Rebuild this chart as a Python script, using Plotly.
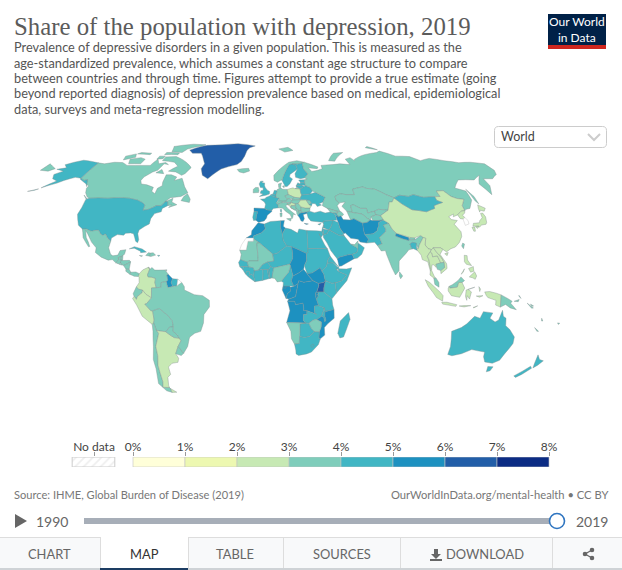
import plotly.graph_objects as go

TITLE = "Share of the population with depression, 2019"
SUBTITLE = [
    "Prevalence of depressive disorders in a given population. This is measured as the",
    "age-standardized prevalence, which assumes a constant age structure to compare",
    "between countries and through time. Figures attempt to provide a true estimate (going",
    "beyond reported diagnosis) of depression prevalence based on medical, epidemiological",
    "data, surveys and meta-regression modelling.",
]
LEGEND_EDGES = [0, 1, 2, 3, 4, 5, 6, 7]
LEGEND_COLORS = ["#ffffd9", "#edf8b1", "#c7e9b4", "#7fcdbb", "#41b6c4", "#1d91c0", "#225ea8", "#0c2c84"]
LEGEND_TICKS = [0, 1, 2, 3, 4, 5, 6, 7, 8]
LEGEND_LABELS = ["0%", "1%", "2%", "3%", "4%", "5%", "6%", "7%", "8%"]
TABS = ["CHART", "MAP", "TABLE", "SOURCES", "DOWNLOAD"]

CODES = ["CAN","USA","MEX","GTM","BLZ","HND","SLV","NIC","CRI","PAN","CUB","HTI","DOM","JAM","PRI","TTO",
 "COL","VEN","GUY","SUR","ECU","PER","BOL","CHL","ARG","PRY","URY","BRA","GRL","ISL","IRL","GBR","PRT","ESP","FRA","BEL","NLD","DEU","CHE","AUT","ITA",
 "POL","CZE","SVK","HUN","SVN","HRV","BIH","SRB","MNE","ALB","MKD","GRC","BGR","ROU","MDA","UKR","BLR","LTU","LVA","EST","DNK","SWE","NOR","FIN","RUS",
 "KAZ","UZB","TKM","KGZ","TJK","AFG","PAK","IRN","IRQ","KWT","SYR","JOR","ISR","LBN","SAU","YEM","OMN","ARE","TUR","GEO","ARM","AZE","CYP",
 "IND","NPL","BTN","BGD","LKA","CHN","TWN","MNG","PRK","JPN","MMR","THA","LAO","VNM","KHM","MYS","IDN","PNG","PHL","NZL","AUS","TLS","NCL","SLB","VUT","FJI",
 "MAR","DZA","TUN","LBY","EGY","MRT","MLI","NER","TCD","SDN","SSD","ERI","ETH","DJI","SOM","KEN","UGA","RWA","BDI","TZA","COD","COG","GAB","GNQ","CMR","CAF",
 "NGA","BEN","TGO","GHA","BFA","CIV","LBR","SLE","GIN","GNB","SEN","AGO","ZMB","MWI","MOZ","ZWE","BWA","NAM","ZAF","LSO","MDG"]
VALUES = [3.6,4.5,3.4,3.5,3.5,3.6,3.6,3.5,3.5,3.4,4.4,3.6,3.8,3.6,4.2,3.6,
 2.9,3.8,5.5,4.4,3.5,2.8,3.6,3.5,2.9,3.5,3.8,3.6,6.2,3.6,3.9,4.3,4.6,5.2,4.4,4.1,4.1,3.9,3.6,3.6,3.9,
 2.4,3.2,3.1,3.1,3.2,2.9,3.4,3.3,3.5,3.0,3.1,5.2,3.6,2.9,3.8,4.4,4.4,4.5,4.2,4.2,3.9,4.4,3.9,4.5,3.7,
 3.6,3.4,3.5,3.5,3.6,5.4,4.1,5.4,4.9,4.7,4.5,4.9,4.2,4.4,4.6,5.2,4.4,3.9,4.4,3.6,4.3,3.6,4.3,
 3.6,5.3,3.5,4.2,3.6,2.9,3.2,4.5,2.8,2.9,2.6,2.9,2.7,2.8,3.3,3.3,2.8,3.3,2.9,4.4,4.6,2.9,3.3,3.2,3.1,3.0,
 5.1,4.7,5.1,4.6,4.8,3.6,3.7,4.5,5.2,4.8,5.3,4.7,4.6,4.6,4.6,4.4,6.2,5.3,5.3,4.5,5.3,5.3,5.3,5.2,4.8,5.1,
 3.9,4.4,4.4,4.6,4.4,4.4,4.6,4.5,4.5,4.5,4.6,5.3,4.3,4.3,5.3,3.4,4.6,3.6,4.6,4.8,4.4]
NO_DATA_CODES = ["ESH","GUF","KOR"]

SHAPES = {
"CAN":["-141,69.6 -141,60.3 -137,59 -135,59.5 -133,57 -130,55.9 -130,54.5 -128,52 -125,49.8 -123,49 -110,49 -95,49 -89,48 -84.5,46.5 -82.5,45.3 -82.5,42.5 -79,43 -76.5,44 -74.7,45 -71.5,45 -69.2,47.4 -67.8,47 -67,45 -64.5,45.4 -66,44 -61,45.5 -65,47 -65,49 -70,47 -67,49.3 -60,50 -56,52 -60,55.5 -64.5,60.3 -69.5,59 -69,61 -74,62.3 -78,62.3 -77.5,58 -76.5,56 -79,54.5 -79,51.5 -82,52.9 -82.3,55.1 -88,56.5 -92.5,57 -94.5,59 -94,61 -90,64 -87,65 -85.5,69 -81.5,68.5 -85,69.8 -90,69 -94,72 -96,68 -102,68 -108,68 -115,68 -121,69.8 -128,70 -135,69",
 "-61.5,66.5 -64,63 -66,62 -72,64 -78,64.5 -73,67.5 -78,70 -89,71 -89,73.5 -80,73.7 -72,71.5 -68,70 -62,67","-105,69 -115,69 -118,72 -110,73 -105,72","-115,73.2 -123,71.5 -125,74 -118,75.5","-62,82.5 -75,83 -92,81 -88,77 -78,76.5 -76,79 -65,81.5","-80,75 -92,75 -92,76.5 -80,76.2","-105,75 -117,75.5 -115,76.5 -105,76","-90,72.3 -95,72 -95,74 -90,74","-59,47.7 -53,46.7 -53,48.5 -56,51.5 -58,50","-128,50.8 -123.5,48.4 -125,48.8","-80.5,63 -87,63.5 -84,65.5"],
"USA":["-124.7,48.4 -123,49 -110,49 -95,49 -89,48 -84.5,46.5 -82.5,45.3 -82.5,42.5 -79,43 -76.5,44 -74.7,45 -71.5,45 -69.2,47.4 -67.8,47 -67,45 -70,43.5 -70,41.7 -74,40.7 -75.5,38 -75.5,35.2 -78,33.9 -81,32 -81.3,30 -80,26.8 -80.4,25.2 -81.8,26 -82.8,28 -84,30 -86,30.4 -89,30.2 -90,29.2 -94,29.5 -97.2,27.7 -97.2,26 -99.5,27.5 -101.5,29.8 -103,29 -104.8,30 -106.5,31.8 -108.2,31.8 -111,31.3 -114.8,32.5 -117.1,32.5 -120.5,34.5 -122.5,37.5 -124.3,40.3 -124,44",
 "-141,69.6 -148,70.5 -156.5,71.3 -162,70 -166.5,68.4 -162,66.5 -168,65.6 -161,64.5 -165,62.5 -162,60 -157,58.7 -163,54.8 -155,57.5 -152,59 -149,60 -146,60.8 -141,60.3 -137,59 -135,59.5 -131,55.5 -133,57 -137,58.4 -141,59.8","-159,22.3 -155.5,20 -155,19.5 -156,19.5","-170,52.8 -164,54.2 -166,53.4"],
"MEX":["-117.1,32.5 -114.8,32.5 -111,31.3 -108.2,31.8 -106.5,31.8 -104.8,30 -103,29 -101.5,29.8 -99.5,27.5 -97.2,26 -97.8,22.5 -96,19 -94.5,18.2 -91.5,18.6 -90.5,21 -87,21.5 -87.5,19 -88.3,18.5 -89.1,17.9 -91,17.2 -90.5,16 -92.2,14.5 -94.5,16.2 -97,15.9 -101.5,17.5 -105.5,20 -105.5,22.5 -109,25.5 -112.8,30 -114.7,31.7 -113,28 -111,25.5 -109.6,23.2 -110.3,23 -112.2,25 -115,28 -116,30.5"],
"GTM":["-92.2,14.5 -90.5,16 -91,17.2 -89.1,17.9 -89.2,15.9 -88.2,15.7 -89.3,14.4 -90.5,13.9"],
"BLZ":["-89.1,17.9 -88.3,18.5 -88.2,16 -89.2,15.9"],
"HND":["-89.2,15.9 -88.2,15.7 -84,15.8 -83.2,15 -85,14 -87.3,13 -87.8,13.4 -89.3,14.4"],
"SLV":["-90.1,13.7 -89.3,14.4 -87.8,13.4 -88,13.2"],
"NIC":["-87.3,13 -85,14 -83.2,15 -83.7,11 -85.7,11.1"],
"CRI":["-85.7,11.1 -83.7,11 -82.6,9.5 -83,8.3 -85.7,10"],
"PAN":["-83,8.3 -82.6,9.5 -79.5,9.6 -77.4,8.7 -77.9,7.2 -80.5,7.3 -81.5,7.8"],
"CUB":["-85,21.9 -82,23.1 -77,21.8 -74.2,20.2 -77.7,19.9 -78,20.7 -82,22.3"],
"HTI":["-74.4,18.4 -73,19.9 -71.7,19.7 -71.7,18"],
"DOM":["-71.7,19.7 -70,19.8 -68.4,18.6 -71.3,17.8 -71.7,18"],
"JAM":["-78.3,18.4 -76.3,18.2 -77,17.8"],
"PRI":["-67.2,18.5 -65.7,18.4 -66.5,17.9"],
"TTO":["-61.9,10.7 -60.9,10.8 -61,10.1"],
"COL":["-77.4,8.7 -75.5,10.7 -72,12.2 -71.3,11 -72.5,8 -72,7 -70,6.9 -67.5,6.2 -67.8,4 -67,1.2 -69.8,1.1 -69.9,-4.2 -73,-2.4 -75.2,-0.1 -77.5,0.4 -79,1.6 -77.3,3.9 -77.5,6.8 -77.9,7.2"],
"VEN":["-72,12.2 -71.3,11 -72.5,8 -72,7 -70,6.9 -67.5,6.2 -67.8,4 -67,1.2 -64,1.5 -64,4 -61,4.5 -60,5.2 -60.7,8 -59.8,8.3 -62,10.7 -66,10.6 -68.2,10.6 -70,12 -71.3,10.9"],
"GUY":["-60,5.2 -61,4.5 -60,1.3 -57,1.9 -58,4 -57.2,6 -59.8,8.3 -60.7,8"],
"SUR":["-57.2,6 -58,4 -57,1.9 -54.5,2.3 -54,5.8"],
"ECU":["-80.9,-2 -79,1.6 -77.5,0.4 -75.2,-0.1 -75.5,-1.5 -78.3,-3.4 -79,-5 -80.3,-3.4"],
"PER":["-81.3,-4.5 -80.3,-3.4 -79,-5 -78.3,-3.4 -75.5,-1.5 -75.2,-0.1 -73,-2.4 -69.9,-4.2 -73,-7.3 -74,-7.5 -70.6,-11 -69.5,-11 -69,-16 -69.5,-17.5 -70.4,-18.3 -76,-14 -79,-8"],
"BOL":["-69.5,-11 -65.4,-9.8 -60.5,-13.5 -58,-16.3 -57.6,-19.5 -60,-19.8 -62.6,-22.2 -66.3,-21.8 -68.2,-21.5 -69,-19 -69.5,-17.5 -69,-16"],
"CHL":["-70.4,-18.3 -69.5,-17.5 -69,-19 -68.2,-21.5 -67,-23 -70,-30 -70,-35 -71.5,-40 -71.7,-44 -72,-49 -73.5,-52 -69,-52.2 -68.6,-52.7 -68.6,-54.9 -72,-54 -75.5,-50 -73.5,-42 -73.5,-37 -71.5,-30 -70.4,-22"],
"ARG":["-66.3,-21.8 -62.6,-22.2 -60,-24 -57.7,-25.3 -54.6,-25.6 -53.7,-27 -56,-30 -58.3,-33.9 -57,-36.3 -58,-38.5 -62,-39 -65,-41 -65,-45 -67.5,-46.5 -69,-51 -69,-52.2 -73.5,-52 -72,-49 -71.7,-44 -71.5,-40 -70,-35 -70,-30 -67,-23 -68.2,-21.5","-68.6,-52.7 -68.6,-54.9 -65.2,-54.8"],
"PRY":["-62.6,-22.2 -60,-19.8 -57.6,-19.5 -58,-22 -55.5,-24 -54.6,-25.6 -57.7,-25.3 -60,-24"],
"URY":["-58.3,-33.9 -56,-30 -53.2,-33.7 -55,-34.9"],
"BRA":["-51.7,4.1 -54.5,2.3 -57,1.9 -60,1.3 -61,4.5 -64,4 -64,1.5 -67,1.2 -69.8,1.1 -69.9,-4.2 -73,-7.3 -74,-7.5 -70.6,-11 -69.5,-11 -65.4,-9.8 -60.5,-13.5 -58,-16.3 -57.6,-19.5 -58,-22 -55.5,-24 -54.6,-25.6 -53.7,-27 -56,-30 -53.2,-33.7 -50,-30 -48.5,-26 -48,-25 -44.8,-23 -41,-22 -39,-17.5 -38.5,-13 -35,-9 -35,-5.5 -39,-3 -44,-2.5 -48,-0.8 -50,0 -50,1.8"],
"GRL":["-73,78.2 -68,76 -60,76 -55,72 -52,69 -53,66 -50,62 -45,60 -42,62.5 -37,65.8 -25,68.5 -22,70.5 -20,74 -19,78 -17,80 -12,81.5 -30,83.5 -45,82.5 -60,82 -65,81"],
"ISL":["-24,65.5 -22,64 -18.5,63.4 -14,64.6 -15,66.2 -20,66"],
"IRL":["-10,52 -6.2,52.2 -6,53.5 -6.5,55 -8.5,55 -10,54"],
"GBR":["-5.5,50 -1,50.7 1.4,51.3 1.7,52.7 0,53.5 -1.5,55 -2,56 -2,57.6 -4,57.7 -3,58.6 -5,58.6 -6,57 -5,55 -3,54.8 -3,53.4 -4.5,53.2 -5,51.8 -3,51.3"],
"PRT":["-9.5,38.7 -8.9,37 -7.4,37.2 -7,39.7 -6.3,41.7 -8.8,42 -9,41"],
"ESP":["-8.9,43.7 -8.8,42 -6.3,41.7 -7,39.7 -7.4,37.2 -6,36.2 -5.3,36.1 -2,36.8 -0.5,38.3 0,39.8 3,41.8 3,42.5 0,42.7 -1.8,43.4"],
"FRA":["-1.8,43.4 0,42.7 3,42.5 4,43.5 7.5,43.8 7,45.9 6,46.4 8.2,49 6,49.5 4,50 2.5,51 1.5,50.3 -1,49.4 -1.6,48.7 -4.7,48.5 -2,47 -1.2,45.7","8.6,42.9 9.5,42.9 9.3,41.4 8.8,41.6"],
"BEL":["2.5,51 4,50 6,49.5 6.1,50.7 4,51.4"],
"NLD":["4,51.4 6.1,50.7 7.1,53.2 5,53.4"],
"DEU":["6.1,50.7 6,49.5 8.2,49 7.6,47.6 10,47.4 13,47.5 13.8,48.7 12.2,50.3 14.8,51 14.2,53.9 11,54 9.5,54.8 7,53.8 7.1,53.2"],
"CHE":["6,46.4 7,45.9 10.4,46.6 10,47.4 7.6,47.6"],
"AUT":["10,47.4 10.4,46.9 12.3,46.8 16,46.7 17,48 15,48.9 13.8,48.7 13,47.5"],
"ITA":["7,45.9 7.5,43.8 10.3,43.6 12,42 15,40.2 16,38 16.6,38.8 17,40.4 18.5,40.1 16,41.8 13.5,43.6 12.3,45 13.7,45.6 13.6,46.5 12.3,46.8 10.4,46.6","12.5,38 15.6,38.2 15,36.7","8.3,41 9.7,41 9.5,39.1 8.5,39"],
"POL":["14.2,53.9 14.8,51 18.8,49.5 22.7,49.1 24,50.8 23.5,52 23.5,54.2 19.5,54.4 18.5,54.8"],
"CZE":["12.2,50.3 13.8,48.7 15,48.9 17,48.7 18.8,49.5 14.8,51"],
"SVK":["17,48 22.5,48.2 22.7,49.1 18.8,49.5 17,48.7"],
"HUN":["16,46.7 18.8,45.9 21,46.2 22.8,48 22.5,48.2 17,48"],
"SVN":["13.6,46.5 13.7,45.5 15.5,45.8 16,46.7"],
"HRV":["13.7,45.5 15.5,45.8 16,46.7 18.8,45.9 19,45 16,45 15.7,44 18.4,42.6 16,43.5 14.8,45"],
"BIH":["16,45 19,45 19.3,43.5 18.4,42.6 15.7,44"],
"SRB":["19,45 18.8,45.9 21,46.2 22.5,44.3 22.5,42.3 20.6,42 20.3,42.8 19.3,43.5"],
"MNE":["18.4,42.6 19.3,43.5 20.3,42.8 19.3,41.9"],
"ALB":["19.3,41.9 20.5,42.5 21,40.8 20,39.7 19.4,40.5"],
"MKD":["20.6,42 22.5,42.3 23,41.3 21,40.8"],
"GRC":["21,40.8 23,41.3 26.3,41.7 26,40.8 23.5,40.2 24,38 23,36.5 21.7,36.8 21,38.3 20,39.7","23.6,35.5 26.3,35.2 24.8,34.9"],
"BGR":["22.5,44.3 22.5,42.3 23,41.3 26.3,41.7 28,42 28.5,43.7 25.5,43.7"],
"ROU":["21,46.2 22.8,48 26.5,48.2 28.2,45.5 29.7,45 28.5,43.7 25.5,43.7 22.5,44.3"],
"MDA":["26.5,48.2 29,47.8 30,46.4 28.2,45.5"],
"UKR":["22.5,48.2 22.7,49.1 24,50.8 30,51.4 34,52.3 40,49.6 38,47 35,46 36.5,45.3 33.5,44.5 32.5,46 30.5,46.2 29.7,45 28.2,45.5 30,46.4 29,47.8 26.5,48.2"],
"BLR":["23.5,52 24,50.8 30,51.4 32,53 31,55 28,56 26.5,55.5 23.5,54.2"],
"LTU":["21,56 21,55.2 23.5,54.2 26.5,55.5 25,56.4"],
"LVA":["21,56 25,56.4 28,56 27.5,57.5 24.5,58 24,57 22.5,57.7"],
"EST":["24.5,58 27.5,57.5 28,59.4 23.5,59.2"],
"DNK":["8.2,55 9.5,54.8 10,56.5 10.5,57.6 8.2,57","11,55.8 12.5,56 12,54.8"],
"SWE":["11,59 13,55.5 14.3,55.5 16.5,57 19,59.9 17,61 17.5,62.5 21.5,64.5 24,65.8 23.5,68 20.5,69 18,68.5 15.5,66 12,61"],
"NOR":["5,59 7.5,58 10.5,59.3 11,59 12,61 15.5,66 18,68.5 20.5,69 25,68.8 29,69.5 31,70 25,71 18,70 13,67.5 5,62","11,79 16,76.8 24,78 20,80.3"],
"FIN":["23.5,68 24,65.8 21.5,63 21.5,60.8 25,60 28,60.5 31.5,62.8 29,66 29,69.5 25,68.8 20.5,69"],
"RUS":["28,59.4 30,60 28,60.5 31.5,62.8 29,66 29,69.5 31,70 41,67 40,66 33,66.5 35,64.3 38,64.7 40,65 44,66 44,68 54,68.5 60,69 68,68.5 67,72 72,73 74,71 75,72 80,73.5 87,75 100,76.5 104,77.5 113,74 125,73.7 130,71 140,72.5 150,71 160,69.7 170,70 180,69 180,65 177,62.5 170,60 163,60 162,56 157,51 155.5,57 163,62 155,59.3 143,59.3 135,54.7 141,53 140,48 135,43.5 132,43 130.7,42.3 131,45 135,48.4 130.5,48.9 127.5,50 125,53.2 120,53 120,50 116,49.8 108,49.5 102,51 98,50 92,50.7 87.5,49.2 83,51 77,54 71,54.5 69,55.3 61,54 61,51 55,51 51,51.5 47,50 47,48 49,46.5 47,45 48,41.8 46,42 40,43.5 37,45 38,47 40,49.6 34,52.3 32,53 31,55 28,56 27.5,57.5",
 "52,71 57,70.7 69,76.5 60,76","142,54 143.5,50 143,46 142,47.5","20,54.4 22.8,54.4 22,55.3","95,80 100,79 104,78.5 98,81","-180,69 -175,67.5 -170,66 -173,64.5 -180,65"],
"KAZ":["47,50 51,51.5 55,51 61,51 61,54 69,55.3 71,54.5 77,54 83,51 87.5,49.2 85,47 83,47 80,42.5 74,43 70.8,42 66,41 66,43.5 62,43.5 58,45.5 56,45 56,41.3 52.5,42 50,44.6 53,47 49,46.5 47,48"],
"UZB":["56,45 58,45.5 62,43.5 66,43.5 66,41 70.8,42 71,40 67.5,39 66.5,37.3 65,38 62,40.5 56,41.3"],
"TKM":["52.5,42 56,41.3 62,40.5 65,38 66.5,37.3 64,36 61,35.6 56,38 53.8,37.3 53,40"],
"KGZ":["70.8,42 74,43 80,42.5 74,39.6 71,40"],
"TJK":["67.5,39 71,40 74,39.6 75,37.3 71.5,37 68,37"],
"AFG":["60.8,34.5 61,35.6 64,36 66.5,37.3 68,37 71.5,37 74.8,37.3 71.5,36 71,34 70,33 69.5,31.7 66.5,29.9 61,29.5 60.8,31.5"],
"PAK":["61,29.5 63,27 61.5,25 66.5,25.4 68,23.7 71,24.5 70,28 74.5,31 75,32.5 74,34.5 77.8,35.5 74.8,37.3 71.5,36 71,34 70,33 69.5,31.7 66.5,29.9"],
"IRN":["44.5,39.7 48,39.5 49,37.5 53.8,37.3 56,38 61,35.6 60.8,31.5 61,29.5 63,27 61.5,25 57.5,25.6 56.5,27 52,27.5 49,30.4 48,30 46,33 45.5,36"],
"IRQ":["42.4,37.1 45.5,36 46,33 48,30 47.7,29.5 46.5,29.1 44.7,29.2 39,32 41,34.5 41.2,36.6"],
"KWT":["47.7,29.5 48.4,28.5 46.5,29.1"],
"SYR":["36,36.7 42.4,37.1 41,34.5 39,32 36,33 35.8,35.5"],
"JOR":["35,29.4 35.5,32.5 39,32 37.5,30"],
"ISR":["34.3,31.3 35,33.1 35.5,32.5 35,29.4"],
"LBN":["35,33.1 35.8,34.6 36,33"],
"SAU":["35,29.4 37.5,30 39,32 44.7,29.2 46.5,29.1 48.4,28.5 50,26.5 51.5,24.5 55,22.7 55.7,22 55,20 52,19 49,18.6 43.5,17.3 42.8,16.4 39,21 37,25 35,28"],
"YEM":["42.8,16.4 43.5,17.3 49,18.6 52,19 53,16.7 45,12.8 43.5,12.7"],
"OMN":["52,19 55,20 55.7,22 56,24.7 56.4,24.9 59.8,22.5 57.8,19 55,17 53,16.7"],
"ARE":["51.5,24.5 54,24.2 56.3,26.2 56,24.7 55.7,22 55,22.7"],
"TUR":["26,40.8 26.3,41.7 28,42 31,41.2 35,42 38,41 41.5,41.5 43.5,41 44.5,39.7 44.8,37.2 42.4,37.1 36,36.7 36,36 34,36.2 30.5,36.5 28,36.8 26.5,38.5"],
"GEO":["40,43.5 46,42 46.5,41.2 43.5,41 41.5,41.5"],
"ARM":["43.5,41 45.5,41 46.3,39 44.8,39.7"],
"AZE":["46,42 48.5,41.8 50,40.4 49,39.5 48,39.5 46.3,39 45.5,41 46.5,41.2"],
"CYP":["32.3,35 34.5,35.6 33.5,34.6"],
"IND":["68,23.7 71,24.5 70,28 74.5,31 75,32.5 74,34.5 77.8,35.5 79,32.5 81,30.2 80.2,28.8 84,27.4 88,26.4 88.2,27.9 89,26.8 92,26.9 96,29 97.3,28 94,24 93,22 92,24.5 89.8,25.4 88.2,24.5 89,21.8 87,21.4 85,19.5 80.3,15.5 80,13 79.8,10.3 77.5,8 75.5,12 73,19 72.6,21 70,20.8 69,22.3"],
"NPL":["80.2,28.8 81,30.2 88.2,27.9 88,26.4 84,27.4"],
"BTN":["89,26.8 88.9,28 92,27.8 92,26.9"],
"BGD":["88.2,24.5 89.8,25.4 92.3,25 92,22.5 92.3,21 90,22 89,21.8"],
"LKA":["80,9.7 81.8,7.5 80.5,6 79.8,7.5"],
"CHN":["74,39.6 80,42.5 83,47 85,47 87.5,49.2 91,46 96,42.8 105,41.7 111.5,43.5 112,45 119,46.7 116,47.8 116,49.8 120,50 120,53 125,53.2 127.5,50 130.5,48.9 135,48.4 131,45 130.7,42.3 128,42 124.4,40 121,39 122,40.5 118,39 119,37.5 122.5,37 119.5,35 122,31 121.5,28.5 119,25.3 116,22.9 113,22 110,20.3 108,21.6 106.7,22.5 102.3,22.5 101,21.5 99,22 97.5,24 98.7,27.5 97.3,28 96,29 92,27.8 88.9,28 81,30.2 79,32.5 77.8,35.5 74.8,37.3 75,37.3","108.7,19.3 111,20 110,18.3"],
"TWN":["121,25 122,24.5 120.8,22 120,23.5"],
"MNG":["87.5,49.2 92,50.7 98,50 102,51 108,49.5 116,49.8 116,47.8 119,46.7 112,45 111.5,43.5 105,41.7 96,42.8 91,46"],
"PRK":["124.4,40 128,42 130.7,42.3 129.7,41 127.5,39.8 128.3,38.6 126.7,37.8 125,38"],
"KOR":["126.7,37.8 128.3,38.6 129.4,37 129,35.2 126.3,34.4 126.5,37"],
"JPN":["130.9,34 132,35.5 136,35.8 137,37 139.5,38.5 140,40.8 141.5,41 142,39 140.8,36 139.8,35 136.8,34.6 135,33.6 133,34","130,33.4 131.8,33.5 131.2,31.3 130.2,31.3","140,41.5 140.5,43.3 141.8,45.4 145.3,43.6 143.3,42 141,42.5","132.5,33.8 134.5,34.2 134,33.3 133,32.8"],
"MMR":["92.3,21 92,22.5 93,22 94,24 97.3,28 98.7,27.5 97.5,24 99,22 101,21.5 100,20.3 97.8,18 98.5,16 99,11 98.7,10 97.7,15 95.5,15.8 94.5,16.2 94.2,18.5"],
"THA":["100,20.3 101,19.5 101,17.7 104,18.2 105.5,14.5 102.5,13.7 102.5,12 101,13.4 100,13.4 99.5,10.5 101,7 102,6.2 100.5,6.4 98.3,8 98.7,10 99,11 98.5,16 97.8,18"],
"LAO":["101,21.5 102.3,22.5 104,20 106.5,17 107.5,14.7 105.5,14.5 104,18.2 101,17.7 101,19.5 100,20.3"],
"VNM":["102.3,22.5 106.7,22.5 108,21.6 105.8,19 109,14 109,11.5 105,8.7 105,10.4 107.5,12 107.5,14.7 106.5,17 104,20"],
"KHM":["102.5,13.7 105.5,14.5 107.5,14.7 107.5,12 105,10.4 103,11"],
"MYS":["100.5,6.4 102,6.2 103.5,4 103.5,1.5 101,3","109.6,2 111.5,2.8 115,5 117,7 119,5 117.5,4 115.5,4 114.5,1.5 110,1"],
"IDN":["109,1 109.6,2 110,1 114.5,1.5 115.5,4 117.5,4 119,1 116,-3.9 111,-3 109,-0.5","95.3,5.5 98,4 104,-1 106,-3 105.8,-5.9 102,-4 100,-1.5 97,2","105.3,-6.5 108.5,-6.5 114.5,-7.8 114,-8.7 106,-7.5","119.5,-3.5 119.8,0 125,1.5 121,0.3 123,-1 122,-4.8 120.5,-3 120.4,-5.5","131,-1 134,-0.8 138,-1.7 141,-2.6 141,-9.1 138,-8 138,-5.5 133,-4 132,-2.9","116,-8.5 119,-8.3 123,-8.3 119,-9","127.5,1.8 128.5,0.5 128,-0.8","126,-3.2 130,-3 128,-3.8"],
"PNG":["141,-2.6 145,-4.5 147.8,-6 147,-7 150.8,-10.5 147,-9.5 144,-7.7 141,-9.1","149,-6 152,-5 151.5,-6.2","152,-3 153,-4.5 151.5,-3"],
"PHL":["120.5,18.5 122.2,18.3 122,16 124,13 121,13.7 120,15","122,7 125.5,9.7 126.5,7.5 125.5,5.7 124,6.5","122,11.5 125,12.5 125,10 123,9.5","117.2,8.4 119.5,11.3 118.5,9.4"],
"NZL":["172.7,-34.5 175.5,-37 178.5,-37.7 176.8,-40 175,-41.5 174,-39.3","172.7,-40.6 174.3,-41.7 171,-45 168.5,-46.6 166.5,-45.8"],
"AUS":["113.5,-22 114.2,-26 115,-30 115,-34.3 118,-35 123.5,-33.9 129,-31.7 134,-32.5 137.8,-33 138.5,-35.5 141,-38.3 146.4,-39 150,-37.4 151,-34 153.5,-28.5 153,-25 149,-21 146,-19 145.3,-15 143.5,-14 142.5,-10.8 141,-16 139,-17 135.5,-15 136.8,-12.2 131,-11.5 129.5,-15 126,-14 122,-18 119,-20","144.7,-40.7 148.3,-40.9 148,-43 146,-43.6"],
"TLS":["124.5,-9.3 127.2,-8.4 125,-9.5"],
"NCL":["164,-20 167,-22 166,-22"],
"SLB":["157,-7 161,-9.5 160,-9.7","159,-7.5 161,-8.5 160,-8.6"],
"VUT":["167,-15 168,-16.5 167.3,-16.5"],
"FJI":["177.3,-17.5 178.7,-17.7 178,-18.3"],
"MAR":["-5.9,35.8 -2,35.1 -1.2,32.5 -3.6,30.5 -8.7,28.7 -8.7,27.7 -13.2,27.7 -10,29.4 -9.8,31.5 -8,33.5"],
"ESH":["-13.2,27.7 -8.7,27.7 -8.7,26 -12,26 -13,21.3 -17,21.3 -16,24 -14.5,26"],
"GUF":["-54,5.8 -54.5,2.3 -51.7,4.1"],
"DZA":["-2,35.1 2,36.5 8.6,36.9 8.3,33.5 9.5,30 9.9,26.5 12,23.5 5.8,19.4 3.3,19 1.2,20.7 -4.8,25 -8.7,27.3 -8.7,28.7 -3.6,30.5 -1.2,32.5"],
"TUN":["8.6,36.9 11,37 10.2,34 11.5,33 9.5,30 8.3,33.5"],
"LBY":["11.5,33 15,32.3 19,30.3 20,32.5 25,31.7 25,20 24,19.5 15,23 12,23.5 9.9,26.5 9.5,30"],
"EGY":["25,31.7 31,31.5 34.2,31.3 34.9,29.5 33.5,28 32.5,30 35.5,24 37,22 25,22"],
"MRT":["-17,21.3 -13,21.3 -12,26 -8.7,26 -8.7,27.3 -4.8,25 -6.5,25 -5.5,15.5 -11,15.5 -12.2,14.8 -16.5,16.2 -16,19"],
"MLI":["-4.8,25 1.2,20.7 3.3,19 4,15.4 0,14.9 -3,13.5 -5.5,10.5 -8,10.3 -8.5,11.8 -11.5,12.3 -12.2,14.8 -11,15.5 -5.5,15.5 -6.5,25"],
"NER":["3.3,19 5.8,19.4 12,23.5 15,23 15.5,20 15.5,16.8 13.6,13.7 9,12.8 3.7,11.7 2,12.5 0,14.9 4,15.4"],
"TCD":["15,23 24,19.5 24,15.7 22.5,13 22,11 18.9,9 15.5,7.5 14,12.9 13.6,13.7 15.5,16.8 15.5,20"],
"SDN":["24,19.5 25,20 25,22 37,22 38.5,18 36.8,16 36,12.7 33,10 32,11.8 27,9 24,8.8 22.5,13 24,15.7"],
"SSD":["24,8.8 27,9 32,11.8 33,10 34.1,8.6 35,5 33.9,4 30.8,3.5 27.5,5 24.5,8"],
"ERI":["36.8,16 38.5,18 43,12.5 40,14.5 36.5,14.3"],
"ETH":["36,12.7 36.5,14.3 40,14.5 42.9,12 42,11 42.9,10 48,8 45,5 42,4 39,3.5 35,5 34.1,8.6 33,10"],
"DJI":["41.8,11.7 43.3,12.5 43.3,11 42,11"],
"SOM":["43.2,11.3 48,11.2 51.2,11.8 48,5 41.6,-1.7 41,3.9 42,4 45,5 48,8 42.9,10"],
"KEN":["35,5 39,3.5 41,3.9 41.6,-1.7 39,-4.7 34,-1 34,1"],
"UGA":["30.8,3.5 33.9,4 35,5 34,1 34,-1 30.5,-1 29.6,-1.4 31,2.3"],
"TZA":["30.5,-1 34,-1 39,-4.7 39.5,-8 40.4,-10.4 35,-11.5 34.5,-9.5 31,-8.4 29.4,-4.4 30.3,-4.3 30.8,-2.4"],
"COD":["12.2,-6 13,-4.8 14,-4.5 17,-3.5 18.5,3.5 19,5 22,4.2 27.5,5 30.8,3.5 31,2.3 29.6,-1.4 29,-1.4 29,-2.8 29.4,-4.4 31,-8.4 28.5,-8.5 28.7,-12 30,-13 27,-12 24,-11 22,-11 22,-9.5 21.5,-7 17,-7.8 16.5,-6"],
"RWA":["29,-1.4 30.5,-1 30.8,-2.4 29,-2.8"],
"BDI":["29,-2.8 30.8,-2.4 30.3,-4.3 29.4,-4.4"],
"COG":["11.3,-4.5 13,-4.8 14,-4.5 17,-3.5 18.5,3.5 16,2 14,1.5 13.3,2.1 14,-0.5 12,-2"],
"GAB":["9,0 9.5,2.2 13.3,2.1 14,1.5 14,-0.5 12,-2 11.3,-4.5"],
"GNQ":["9.5,1 11.3,1 11.3,2.2 9.8,2.2"],
"CMR":["9.7,4 8.5,4.7 10,6.5 12.9,9.5 14,12.9 15.5,7.5 14.5,5 16,2 13.3,2.1 9.5,2.2"],
"CAF":["14.5,5 15.5,7.5 18.9,9 22,11 24,8.8 24.5,8 27.5,5 22,4.2 19,5 18.5,3.5 16,2"],
"NGA":["2.7,6.4 3.7,11.7 9,12.8 13.6,13.7 14,12.9 12.9,9.5 10,6.5 8.5,4.7 6,4.3 4.5,6.2"],
"BEN":["1.6,6.2 2.7,6.4 3.7,11.7 2,12.5 0.9,11"],
"TGO":["1.2,6.1 1.6,6.2 0.9,11 0,11 0.5,8"],
"GHA":["-3,5.1 1.2,6.1 0.5,8 0,11 -2.8,11 -2.7,8"],
"BFA":["-5.5,10.5 -3,13.5 0,14.9 2,12.5 0.9,11 0,11 -2.8,11"],
"CIV":["-7.5,4.4 -3,5.1 -2.7,8 -2.8,11 -5.5,10.5 -8,10.3 -8.3,7.5"],
"LBR":["-11.4,6.9 -7.5,4.4 -8.3,7.5 -9.5,8.4 -10.5,8.3"],
"SLE":["-13.2,8.5 -11.4,6.9 -10.5,8.3 -11,10 -12.5,10"],
"GIN":["-15,11 -13.2,8.5 -12.5,10 -11,10 -10.5,8.3 -9.5,8.4 -8.3,7.5 -8,10.3 -8.5,11.8 -11.5,12.3 -13.7,12.6"],
"GNB":["-16.7,12.4 -13.7,12.6 -15,11"],
"SEN":["-17.5,14.7 -16.5,16.2 -12.2,14.8 -11.5,12.3 -13.7,12.6 -16.7,12.4"],
"AGO":["12.2,-6 16.5,-6 17,-7.8 21.5,-7 22,-9.5 22,-11 24,-11 24,-13 22,-13 22,-16.2 23.4,-17.6 18.5,-17.4 11.8,-17.3 13.7,-11 13,-8.5"],
"ZMB":["22,-13 24,-13 24,-11 27,-12 30,-13 28.7,-12 28.5,-8.5 31,-8.4 34.5,-9.5 33,-14 30.3,-15.6 28,-16 25.3,-17.8 23.4,-17.6 22,-16.2"],
"MWI":["33,-14 34.5,-9.5 35,-11.5 35,-14 35.8,-16 35,-17 34.3,-14.5"],
"MOZ":["35,-11.5 40.4,-10.4 40.7,-15 36.9,-18 35,-20 35.5,-24 32.9,-26 32,-25.8 32,-22.4 33,-19.7 33,-17 30.4,-16 30.3,-15.6 33,-14 34.3,-14.5 35,-17 35.8,-16 35,-14"],
"ZWE":["25.3,-17.8 28,-16 30.3,-15.6 30.4,-16 33,-17 33,-19.7 32,-22.4 29,-22.2 27,-20.5"],
"BWA":["20,-18 23.4,-17.6 25.3,-17.8 27,-20.5 29,-22.2 26,-24.7 23,-25.3 20,-24.8"],
"NAM":["11.8,-17.3 18.5,-17.4 23.4,-17.6 20,-18 20,-24.8 20,-28.4 17,-28.8 15,-26 14.5,-22"],
"ZAF":["17,-28.8 20,-28.4 20,-24.8 23,-25.3 26,-24.7 29,-22.2 32,-22.4 32,-25.8 32.9,-26 32,-29 28,-33 25,-34 20,-34.8 18.3,-34 18,-32"],
"LSO":["27.2,-29.6 28.6,-28.7 29.4,-29.7 28,-30.6"],
"MDG":["49.3,-12 50.4,-15.5 47.2,-25 45,-25.5 43.5,-23 44.5,-16.5"],
}


def ring(txt):
    pts = [[float(v) for v in p.split(",")] for p in txt.split()]
    area = sum(pts[i][0] * pts[(i + 1) % len(pts)][1] - pts[(i + 1) % len(pts)][0] * pts[i][1] for i in range(len(pts)))
    if area > 0:  # exterior rings run clockwise for the spherical projection
        pts = pts[::-1]
    return pts + [pts[0]]


W, H = 622, 570
X = lambda x: x / W
Y = lambda y: 1 - y / H

BORDER = "#84908f"
fig = go.Figure()


def add_country(code, fill, line):
    lons, lats = [], []
    for r in SHAPES[code]:
        pts = ring(r)
        lons += [p[0] for p in pts] + [None]
        lats += [p[1] for p in pts] + [None]
    fig.add_trace(go.Scattergeo(lon=lons[:-1], lat=lats[:-1], mode="lines", fill="toself", fillcolor=fill,
                                line=dict(color=line, width=0.4), name=code, showlegend=False, hoverinfo="name"))


for code, value in zip(CODES, VALUES):
    add_country(code, LEGEND_COLORS[min(int(value), 7)], BORDER)
for code in NO_DATA_CODES:
    add_country(code, "#ffffff", "#bbbbbb")

# legend on its own axis
fig.add_trace(go.Bar(x=[1] * 8, base=LEGEND_EDGES, y=[0] * 8, orientation="h", width=1,
                     marker=dict(color=LEGEND_COLORS, line=dict(width=0.6, color="#c4c4c4")), xaxis="x", yaxis="y", showlegend=False))
fig.add_trace(go.Bar(x=[0.82], base=[-1.17], y=[0], orientation="h", width=1,
                     marker=dict(color="#ffffff", line=dict(color="#cccccc", width=1),
                                 pattern=dict(shape="/", fgcolor="#dddddd", bgcolor="#ffffff", size=6, solidity=0.3)),
                     xaxis="x", yaxis="y", showlegend=False))

shapes, ann = [], []


def text(x, y, s, size=12, color="#5b5b5b", font="Lato", anchor="left"):
    ann.append(dict(x=X(x), y=Y(y), xref="paper", yref="paper", text=s, showarrow=False, xanchor=anchor, yanchor="middle",
                    font=dict(family=font, size=size, color=color), borderpad=0, borderwidth=0))


def rect(x0, y0, x1, y1, fill=None, line=None, lw=1):
    shapes.append(dict(type="rect", xref="paper", yref="paper", x0=X(x0), x1=X(x1), y0=Y(y0), y1=Y(y1),
                       fillcolor=fill or "rgba(0,0,0,0)", line=dict(color=line or "rgba(0,0,0,0)", width=lw if line else 0)))


def seg(x0, y0, x1, y1, color, lw=1):
    shapes.append(dict(type="line", xref="paper", yref="paper", x0=X(x0), x1=X(x1), y0=Y(y0), y1=Y(y1), line=dict(color=color, width=lw)))


def path(pts, fill=None, line=None, lw=1, close=True):
    d = "M " + " L ".join(f"{X(a):.5f},{Y(b):.5f}" for a, b in pts) + (" Z" if close else "")
    shapes.append(dict(type="path", xref="paper", yref="paper", path=d, fillcolor=fill or "rgba(0,0,0,0)",
                       line=dict(color=line or "rgba(0,0,0,0)", width=lw if line else 0)))


def circle(cx, cy, r, fill=None, line=None, lw=1):
    shapes.append(dict(type="circle", xref="paper", yref="paper", x0=X(cx - r), x1=X(cx + r), y0=Y(cy - r), y1=Y(cy + r),
                       fillcolor=fill or "rgba(0,0,0,0)", line=dict(color=line or "rgba(0,0,0,0)", width=lw if line else 0)))


def round_rect(x0, y0, x1, y1, r, fill, line):
    p = lambda a, b: f"{X(a):.5f},{Y(b):.5f}"
    d = (f"M {p(x0 + r, y0)} L {p(x1 - r, y0)} Q {p(x1, y0)} {p(x1, y0 + r)} L {p(x1, y1 - r)} Q {p(x1, y1)} {p(x1 - r, y1)} "
         f"L {p(x0 + r, y1)} Q {p(x0, y1)} {p(x0, y1 - r)} L {p(x0, y0 + r)} Q {p(x0, y0)} {p(x0 + r, y0)} Z")
    shapes.append(dict(type="path", xref="paper", yref="paper", path=d, fillcolor=fill, line=dict(color=line, width=1)))


# header
text(14, 26, TITLE, size=24.8, color="#5b5b5b", font="Liberation Serif")
for line, yy in zip(SUBTITLE, [47, 63, 78, 93, 109]):
    text(14, yy, line, size=12.75, color="#555555")
rect(548, 14, 606, 45, fill="#002147")
rect(548, 45, 606, 49, fill="#ce261e")
text(577, 30, "Our World<br>in Data", size=12, color="#ffffff", anchor="center")

# region selector
round_rect(494.5, 126.5, 606.5, 147.5, 4, "#ffffff", "#cccccc")
text(501, 137, "World", size=12.5, color="#444444")
path([(588, 134), (594, 140), (600, 134)], line="#cccccc", lw=2, close=False)

# footer
text(14, 494, "Source: IHME, Global Burden of Disease (2019)", size=11.1, color="#777777")
text(608, 494, "OurWorldInData.org/mental-health • CC BY", size=11.2, color="#777777", anchor="right")

# timeline
path([(15, 514), (27, 521), (15, 528)], fill="#666666")
text(36, 521, "1990", size=14, color="#666666")
text(576, 521, "2019", size=14, color="#666666")
rect(84, 518, 557, 524, fill="#a7aeb8")
circle(557, 521, 7.5, fill="#ffffff", line="#2f75c0", lw=1.6)

# tabs
rect(0, 537, 622, 570, fill="#f8f9fa")
rect(100, 537, 188, 570, fill="#ffffff")
seg(0, 537.5, 100, 537.5, "#dddddd")
seg(188, 537.5, 622, 537.5, "#dddddd")
for sx in [100, 188, 283, 400, 552]:
    seg(sx + 0.5, 537, sx + 0.5, 568, "#dddddd")
rect(0, 568, 622, 570, fill="#cfd3d6")
rect(100, 568, 188, 570, fill="#1d3d63")
for s, cx, col in zip(TABS[:4], [49, 144, 235, 342], ["#666666", "#333333", "#666666", "#666666"]):
    text(cx, 554, s, size=12.9, color=col, anchor="center")
text(485, 554, TABS[4], size=12.9, color="#666666", anchor="center")
path([(434, 549), (438, 549), (438, 554), (441, 554), (436, 559), (431, 554), (434, 554)], fill="#666666")
rect(430, 559, 442, 561, fill="#666666")
seg(585, 554, 592, 550, "#666666", 1.2)
seg(585, 554, 592, 558, "#666666", 1.2)
circle(585, 554, 2.3, fill="#666666")
circle(592, 550, 2.3, fill="#666666")
circle(592, 558, 2.3, fill="#666666")

fig.update_layout(
    width=W, height=H, autosize=False, margin=dict(l=0, r=0, t=0, b=0), paper_bgcolor="#ffffff", plot_bgcolor="#ffffff",
    showlegend=False, barmode="overlay", shapes=shapes, annotations=ann,
    geo=dict(domain=dict(x=[0, 1], y=[Y(425), Y(125)]), bgcolor="rgba(0,0,0,0)", showframe=False, showland=False, showocean=False,
             showlakes=False, showrivers=False, showcountries=False, showcoastlines=False, showsubunits=False,
             projection=dict(type="robinson", scale=1.01), center=dict(lon=26.4, lat=8),
             lonaxis=dict(showgrid=False, range=[-180, 180]), lataxis=dict(showgrid=False, range=[-90, 90])),
    xaxis=dict(domain=[0, 1], range=[-133 / 52, (W - 133) / 52], side="top", anchor="y", showgrid=False, zeroline=False, showline=False,
               tickmode="array", tickvals=LEGEND_TICKS + [-0.75], ticktext=LEGEND_LABELS + ["No data"], ticks="outside", ticklen=4,
               ticklabelstandoff=-4, tickcolor="#999999", tickfont=dict(family="Lato", size=12, color="#444444"), fixedrange=True),
    yaxis=dict(domain=[Y(467), Y(457)], range=[-0.5, 0.5], visible=False, fixedrange=True),
)
fig.write_html("out.html", config=dict(displayModeBar=False), post_script="document.body.style.margin='0';")
